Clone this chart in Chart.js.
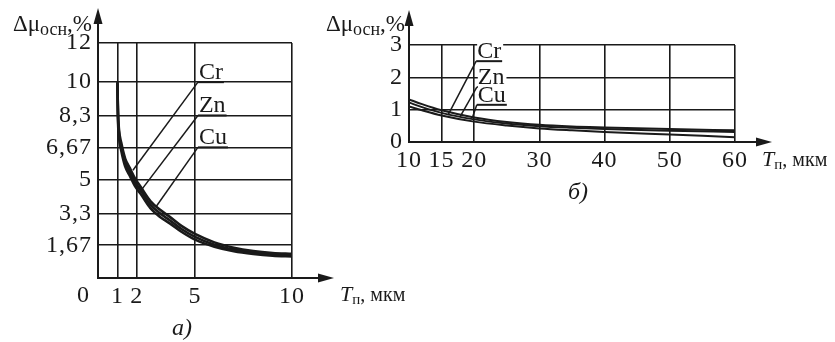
<!DOCTYPE html>
<html>
<head>
<meta charset="utf-8">
<script src="https://cdn.jsdelivr.net/npm/chart.js@4.4.1/dist/chart.umd.min.js"></script>
<style>
  html, body { margin: 0; padding: 0; background: #fff; }
  #wrap { position: relative; width: 835px; height: 342px; }
  canvas { position: absolute; left: 0; top: 0; }
</style>
</head>
<body>
<div id="wrap">
  <canvas id="chartA" width="835" height="342"></canvas>
  <canvas id="chartB" width="835" height="342"></canvas>
</div>
<script>
// ---- data: chart a) ----
const seriesNames = ["Cr", "Zn", "Cu"];

const xA = [1, 1.03, 1.08, 1.2, 1.4, 1.65, 1.9, 2.25, 2.7, 3.2, 3.7, 4.3, 5, 6, 7, 8, 9, 10];
const crA = [10, 8.5, 7.6, 6.9, 6.1, 5.6, 5.1, 4.58, 3.93, 3.48, 3.12, 2.66, 2.25, 1.82, 1.55, 1.38, 1.28, 1.23];
const znA = [10, 8.3, 7.4, 6.7, 5.9, 5.4, 4.9, 4.4, 3.75, 3.3, 2.95, 2.5, 2.1, 1.7, 1.45, 1.3, 1.2, 1.16];
const cuA = [9.9, 8.1, 7.2, 6.5, 5.7, 5.2, 4.7, 4.22, 3.57, 3.12, 2.79, 2.36, 1.96, 1.6, 1.37, 1.23, 1.14, 1.1];

const xTicksA = [1, 2, 5, 10];
const yTicksA = [1.67, 3.3, 5, 6.67, 8.3, 10, 12];
const yLabelsA = ["1,67", "3,3", "5", "6,67", "8,3", "10", "12"];

// leader lines a): start (at label) -> end (on curve)
const leadFromXA = [5.15, 5.15, 5.15];
const leadFromYA = [10, 8.3, 6.67];
const leadToXA = [1.8, 2.2, 3.0];
const leadToYA = [5.5, 4.45, 3.65];

// ---- data: chart б) ----
const xB = [10, 12, 15, 20, 25, 30, 35, 40, 50, 60];
const crB = [1.32, 1.17, 0.98, 0.76, 0.62, 0.53, 0.48, 0.45, 0.4, 0.36];
const znB = [1.22, 1.08, 0.9, 0.7, 0.57, 0.49, 0.44, 0.4, 0.35, 0.31];
const cuB = [1.1, 0.98, 0.82, 0.63, 0.51, 0.42, 0.36, 0.31, 0.23, 0.15];

const xTicksB = [10, 15, 20, 30, 40, 50, 60];
const yTicksB = [0, 1, 2, 3];

const leadFromXB = [20.3, 20.4, 20.4];
const leadFromYB = [2.5, 1.7, 1.15];
const leadToXB = [16.0, 17.8, 19.7];
const leadToYB = [0.84, 0.77, 0.74];

// ---- styling ----
const INK = "#1a1a1a";
const SERIF = "'Liberation Serif', 'DejaVu Serif', serif";
const FS = 24;
const SPACING = "1px";

function pts(xs, ys) {
  return xs.map((v, i) => ({ x: v, y: ys[i] }));
}

function curve(ys, xs, width) {
  return {
    data: pts(xs, ys),
    borderColor: INK,
    borderWidth: width,
    pointRadius: 0,
    cubicInterpolationMode: "monotone",
    fill: false
  };
}

function leader(x0, y0, x1, y1) {
  return {
    data: [{ x: x0, y: y0 }, { x: x1, y: y1 }],
    borderColor: INK,
    borderWidth: 1.5,
    pointRadius: 0,
    tension: 0,
    fill: false
  };
}

function textRun(ctx, parts, x, y, align) {
  // parts: [{t, font, dy}]
  let total = 0;
  parts.forEach(p => { ctx.font = p.font; p.w = ctx.measureText(p.t).width; total += p.w; });
  let cx = align === "right" ? x - total : x;
  parts.forEach(p => {
    ctx.font = p.font;
    ctx.fillText(p.t, cx, y + (p.dy || 0));
    cx += p.w;
  });
}

// the printed figure uses slightly wide type
const spacing = {
  id: "spacing",
  beforeUpdate(chart) { chart.ctx.letterSpacing = SPACING; },
  beforeDraw(chart) { chart.ctx.letterSpacing = SPACING; }
};

const decor = {
  id: "decor",
  afterDraw(chart, args, o) {
    const { ctx, chartArea: a, scales: { x, y } } = chart;
    ctx.save();
    ctx.strokeStyle = INK;
    ctx.fillStyle = INK;
    ctx.lineWidth = 2;

    // axis arrows
    ctx.beginPath();
    ctx.moveTo(a.left, a.bottom);
    ctx.lineTo(a.left, o.yTip + 10);
    ctx.moveTo(a.left, a.bottom);
    ctx.lineTo(o.xTip - 10, a.bottom);
    ctx.stroke();
    ctx.beginPath();
    ctx.moveTo(a.left, o.yTip);
    ctx.lineTo(a.left - 4.5, o.yTip + 16);
    ctx.lineTo(a.left + 4.5, o.yTip + 16);
    ctx.closePath();
    ctx.fill();
    ctx.beginPath();
    ctx.moveTo(o.xTip, a.bottom);
    ctx.lineTo(o.xTip - 16, a.bottom - 4.5);
    ctx.lineTo(o.xTip - 16, a.bottom + 4.5);
    ctx.closePath();
    ctx.fill();

    ctx.textBaseline = "alphabetic";
    ctx.textAlign = "left";
    ctx.letterSpacing = "0px";

    // y title  Δμосн,%
    textRun(ctx, [
      { t: "Δμ", font: "23px " + SERIF },
      { t: "осн", font: "18px " + SERIF, dy: 4 },
      { t: ",%", font: "23px " + SERIF }
    ], o.yTitleX, o.yTitleY, "right");

    // x title  Tп, мкм
    textRun(ctx, [
      { t: "T", font: "italic 22px " + SERIF },
      { t: "п", font: "15px " + SERIF, dy: 3 },
      { t: ", мкм", font: "20px " + SERIF }
    ], o.xTitleX, o.xTitleY, "left");

    // origin label
    if (o.zeroLabel) {
      ctx.font = FS + "px " + SERIF;
      ctx.textAlign = "center";
      ctx.fillText("0", a.left - 15, o.xTitleY + 1);
      ctx.textAlign = "left";
    }

    // series labels with underline
    ctx.font = FS + "px " + SERIF;
    o.names.forEach((name, i) => {
      const sx = x.getPixelForValue(o.fromX[i]);
      const sy = y.getPixelForValue(o.fromY[i]);
      const w = ctx.measureText(name).width + 2;
      if (o.labelBg) {
        ctx.fillStyle = "#fff";
        ctx.fillRect(sx + 1, sy - 20, w, 17);
        ctx.fillStyle = INK;
      }
      ctx.fillText(name, sx + 1, sy - 3);
      ctx.lineWidth = 2;
      ctx.beginPath();
      ctx.moveTo(sx, sy);
      ctx.lineTo(sx + w, sy);
      ctx.stroke();
    });

    // caption
    ctx.font = "italic " + FS + "px " + SERIF;
    ctx.textAlign = "center";
    ctx.fillText(o.caption, o.capX, o.capY);
    ctx.restore();
  }
};

function baseScales(xMin, xMax, xTicks, xLabel, yMin, yMax, yTicks, yLabel, yWidth, xHeight) {
  const grid = { color: INK, lineWidth: 1.6, drawTicks: false };
  const border = { color: INK, width: 2 };
  return {
    x: {
      type: "linear", min: xMin, max: xMax,
      afterBuildTicks: s => { s.ticks = xTicks.map(v => ({ value: v })); },
      afterFit: s => { s.height = xHeight; },
      ticks: { callback: xLabel, color: INK, font: { family: SERIF, size: FS }, padding: 4, maxRotation: 0, autoSkip: false },
      grid, border
    },
    y: {
      type: "linear", min: yMin, max: yMax,
      afterBuildTicks: s => { s.ticks = yTicks.map(v => ({ value: v })); },
      afterFit: s => { s.width = yWidth; },
      ticks: { callback: yLabel, color: INK, font: { family: SERIF, size: FS }, padding: 6, autoSkip: false },
      grid, border
    }
  };
}

// ---- chart a) ----
new Chart(document.getElementById("chartA"), {
  type: "line",
  data: {
    datasets: [
      curve(crA, xA, 2.6), curve(znA, xA, 2.6), curve(cuA, xA, 2.6),
      ...seriesNames.map((n, i) => leader(leadFromXA[i], leadFromYA[i], leadToXA[i], leadToYA[i]))
    ]
  },
  options: {
    responsive: false,
    animation: false,
    layout: { padding: { left: 0, top: 43, right: 543, bottom: 0 } },
    scales: baseScales(0, 10, xTicksA, v => String(v), 0, 12, yTicksA,
      v => yLabelsA[yTicksA.indexOf(v)], 98, 64),
    plugins: {
      legend: { display: false },
      tooltip: { enabled: false },
      decor: {
        yTip: 8, xTip: 334,
        yTitleX: 92, yTitleY: 31,
        xTitleX: 340, xTitleY: 301,
        zeroLabel: true,
        names: seriesNames, fromX: leadFromXA, fromY: leadFromYA, labelBg: false,
        caption: "а)", capX: 182, capY: 335
      }
    }
  },
  plugins: [spacing, decor]
});

// ---- chart б) ----
new Chart(document.getElementById("chartB"), {
  type: "line",
  data: {
    datasets: [
      curve(crB, xB, 2), curve(znB, xB, 2), curve(cuB, xB, 2),
      ...seriesNames.map((n, i) => leader(leadFromXB[i], leadFromYB[i], leadToXB[i], leadToYB[i]))
    ]
  },
  options: {
    responsive: false,
    animation: false,
    layout: { padding: { left: 0, top: 45, right: 100, bottom: 0 } },
    scales: baseScales(10, 60, xTicksB, v => String(v), 0, 3, yTicksB, v => String(v), 409, 200),
    plugins: {
      legend: { display: false },
      tooltip: { enabled: false },
      decor: {
        yTip: 10, xTip: 772,
        yTitleX: 405, yTitleY: 31,
        xTitleX: 762, xTitleY: 166,
        zeroLabel: false,
        names: seriesNames, fromX: leadFromXB, fromY: leadFromYB, labelBg: true,
        caption: "б)", capX: 578, capY: 199
      }
    }
  },
  plugins: [spacing, decor]
});
</script>
</body>
</html>
